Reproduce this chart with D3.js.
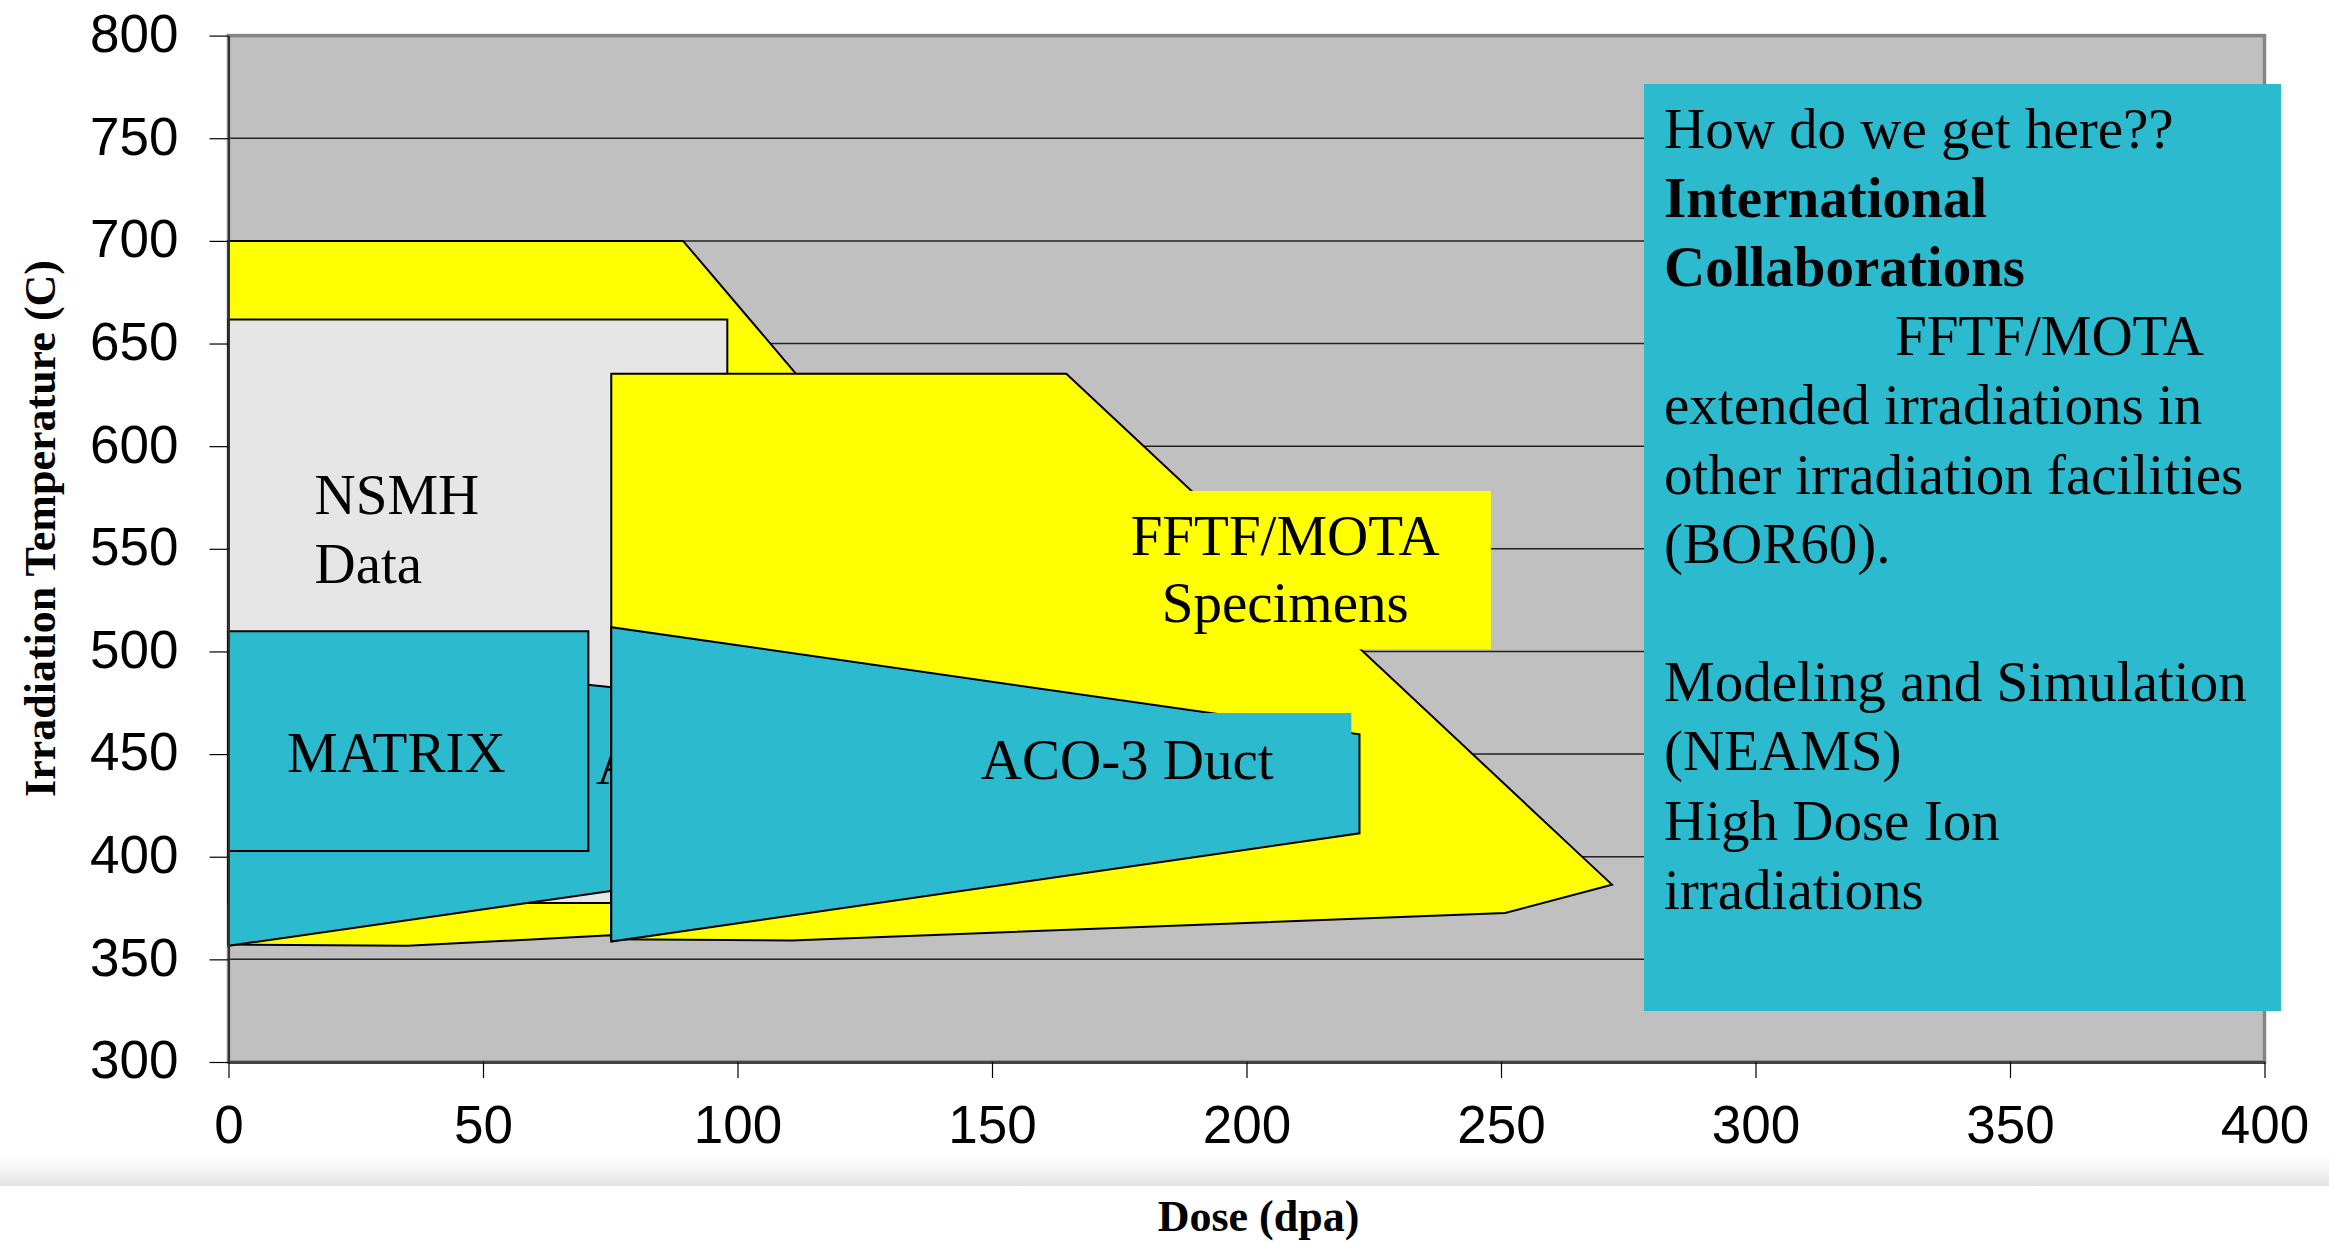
<!DOCTYPE html>
<html>
<head>
<meta charset="utf-8">
<script src="https://cdn.jsdelivr.net/npm/d3@7"></script>
<style>
  html, body { margin: 0; padding: 0; background: #ffffff; }
  svg { display: block; }
</style>
</head>
<body>
<script>
// ---- Axis ticks ----
const doseTicks = [0, 50, 100, 150, 200, 250, 300, 350, 400];
const tempTicks = [300, 350, 400, 450, 500, 550, 600, 650, 700, 750, 800];

// ---- Irradiation envelopes: [dose (dpa), temperature (C)] ----
const earlyFftfEnvelope = [[0, 700], [89.3, 700], [115, 625], [115, 361], [75, 361.7], [35.2, 356.6], [0, 357.2]];
const nsmhEnvelope      = [[0, 661.7], [98, 661.7], [98, 377.5], [0, 377.5]];
const acoBackEnvelope   = [[0, 356.6], [0, 501.8], [150, 463.4], [150, 410]];
const matrixEnvelope    = [[0, 509.8], [70.7, 509.8], [70.7, 402.8], [0, 402.8]];
const fftfMotaEnvelope  = [[75.2, 635.3], [164.6, 635.3], [271.8, 386.4], [250.8, 372.6], [110.6, 359.2], [75.2, 359.8]];
const acoDuctEnvelope   = [[75.2, 358.7], [75.2, 511.8], [222.2, 459.6], [222.2, 411.4]];

// ---- Label backgrounds: [dose0, dose1, temp0, temp1] ----
const fftfLabelBox = [167.1, 248.0, 501.0, 578.2];
const acoLabelBox  = [132.9, 220.6, 426.2, 470.0];

// ---- Label text and anchors: [dose, temp] ----
const nsmhLines   = ["NSMH", "Data"];
const nsmhAnchors = [[16.9, 567.0], [16.9, 533.4]];
const matrixText  = "MATRIX";
const matrixAnchor = [11.5, 441.1];
const acoBackText = "ACO-3";
const acoBackAnchor = [72.2, 435.5];
const fftfLines   = ["FFTF/MOTA", "Specimens"];
const fftfAnchors = [[207.6, 546.8], [207.6, 514.2]];
const acoDuctText = "ACO-3 Duct";
const acoDuctAnchor = [147.8, 438.1];

// ---- Side note text ----
const noteLines = [
  { text: "How do we get here??", bold: false, indent: 0 },
  { text: "International", bold: true, indent: 0 },
  { text: "Collaborations", bold: true, indent: 0 },
  { text: "FFTF/MOTA", bold: false, indent: 231 },
  { text: "extended irradiations in", bold: false, indent: 0 },
  { text: "other irradiation facilities", bold: false, indent: 0 },
  { text: "(BOR60).", bold: false, indent: 0 },
  { text: "", bold: false, indent: 0 },
  { text: "Modeling and Simulation", bold: false, indent: 0 },
  { text: "(NEAMS)", bold: false, indent: 0 },
  { text: "High Dose Ion", bold: false, indent: 0 },
  { text: "irradiations", bold: false, indent: 0 }
];

// ---- Layout ----
const W = 2329, H = 1243;
const plot = { left: 228.5, right: 2264.5, top: 35.6, bottom: 1062 };
const SERIF = "'Liberation Serif', 'Times New Roman', Times, serif";
const SANS = "'Liberation Sans', Arial, Helvetica, sans-serif";
const COLORS = {
  plotBg: "#c0c0c0",
  yellow: "#ffff00",
  lightGray: "#e6e6e6",
  cyan: "#2bbace"
};

const svg = d3.select("body").append("svg")
  .attr("width", W).attr("height", H)
  .attr("viewBox", `0 0 ${W} ${H}`);

const x = d3.scaleLinear().domain([0, 400]).range([plot.left, plot.right]);
const y = d3.scaleLinear().domain([300, 800]).range([plot.bottom, plot.top]);

// Shaded band between tick labels and the axis title
const defs = svg.append("defs");
const grad = defs.append("linearGradient").attr("id", "band")
  .attr("x1", 0).attr("y1", 0).attr("x2", 0).attr("y2", 1);
grad.append("stop").attr("offset", 0).attr("stop-color", "#ffffff");
grad.append("stop").attr("offset", 0.45).attr("stop-color", "#f7f7f7");
grad.append("stop").attr("offset", 0.7).attr("stop-color", "#eeeeee");
grad.append("stop").attr("offset", 1).attr("stop-color", "#e2e2e2");
svg.append("rect").attr("x", 0).attr("y", 1152).attr("width", W).attr("height", 34)
  .attr("fill", "url(#band)");

// Plot area
svg.append("rect")
  .attr("x", x(0)).attr("y", y(800))
  .attr("width", x(400) - x(0)).attr("height", y(300) - y(800))
  .attr("fill", COLORS.plotBg);

// Horizontal gridlines
svg.append("g").selectAll("line")
  .data(tempTicks.filter(t => t > 300 && t < 800))
  .join("line")
  .attr("x1", x(0)).attr("x2", x(400))
  .attr("y1", d => y(d)).attr("y2", d => y(d))
  .attr("stroke", "#222").attr("stroke-width", 1.5);

// Plot border
svg.append("rect")
  .attr("x", x(0)).attr("y", y(800))
  .attr("width", x(400) - x(0)).attr("height", y(300) - y(800))
  .attr("fill", "none").attr("stroke", "#858585").attr("stroke-width", 3.5);

const line = d3.line().x(d => x(d[0])).y(d => y(d[1]));
const drawShape = (pts, fill) => svg.append("path")
  .attr("d", line(pts) + "Z")
  .attr("fill", fill).attr("stroke", "#000").attr("stroke-width", 2)
  .attr("stroke-linejoin", "miter");
const drawBox = (b, fill) => svg.append("rect")
  .attr("x", x(b[0])).attr("y", y(b[3]))
  .attr("width", x(b[1]) - x(b[0])).attr("height", y(b[2]) - y(b[3]))
  .attr("fill", fill);
const drawText = (txt, pt, anchor) => svg.append("text")
  .attr("x", x(pt[0])).attr("y", y(pt[1]))
  .attr("text-anchor", anchor || "start")
  .attr("font-family", SERIF).attr("font-size", 57)
  .attr("fill", "#000").text(txt);

// Envelopes, back to front
drawShape(earlyFftfEnvelope, COLORS.yellow);
drawShape(nsmhEnvelope, COLORS.lightGray);
drawShape(acoBackEnvelope, COLORS.cyan);
drawText(acoBackText, acoBackAnchor);
drawShape(matrixEnvelope, COLORS.cyan);
drawText(matrixText, matrixAnchor);
nsmhLines.forEach((t, i) => drawText(t, nsmhAnchors[i]));

drawShape(fftfMotaEnvelope, COLORS.yellow);
drawBox(fftfLabelBox, COLORS.yellow);
fftfLines.forEach((t, i) => drawText(t, fftfAnchors[i], "middle"));

drawShape(acoDuctEnvelope, COLORS.cyan);
drawBox(acoLabelBox, COLORS.cyan);
drawText(acoDuctText, acoDuctAnchor);

// Axes
const yAxis = d3.axisLeft(y).tickValues(tempTicks).tickSize(19).tickPadding(31).tickSizeOuter(0);
const xAxis = d3.axisBottom(x).tickValues(doseTicks).tickSize(16).tickPadding(27).tickSizeOuter(0);

const gy = svg.append("g").attr("transform", `translate(${plot.left},0)`).call(yAxis);
const gx = svg.append("g").attr("transform", `translate(0,${plot.bottom})`).call(xAxis);

[gx, gy].forEach(g => {
  g.select(".domain").attr("stroke", "#333").attr("stroke-width", 2);
  g.selectAll(".tick line").attr("stroke", "#000").attr("stroke-width", 1.2);
  g.selectAll(".tick text")
    .attr("font-family", SANS).attr("font-size", 53).attr("fill", "#000");
});
gx.select(".domain").attr("stroke", "#444").attr("stroke-width", 3);
gy.selectAll(".tick text").attr("dy", "0.3em");

// Axis titles
svg.append("text")
  .attr("transform", `translate(55,528.5) rotate(-90)`)
  .attr("text-anchor", "middle")
  .attr("font-family", SERIF).attr("font-weight", "bold").attr("font-size", 44)
  .text("Irradiation Temperature (C)");

svg.append("text")
  .attr("x", 1258.5).attr("y", 1231)
  .attr("text-anchor", "middle")
  .attr("font-family", SERIF).attr("font-weight", "bold").attr("font-size", 44)
  .text("Dose (dpa)");

// Side note box
const note = { x: 1644, y: 84, w: 637, h: 927, pad: 20, firstBase: 147.5, lineH: 69.2 };
svg.append("rect")
  .attr("x", note.x).attr("y", note.y).attr("width", note.w).attr("height", note.h)
  .attr("fill", COLORS.cyan);
svg.append("g").selectAll("text")
  .data(noteLines)
  .join("text")
  .attr("x", d => note.x + note.pad + d.indent)
  .attr("y", (d, i) => note.firstBase + i * note.lineH)
  .attr("font-family", SERIF).attr("font-size", 57)
  .attr("font-weight", d => d.bold ? "bold" : "normal")
  .attr("fill", "#000")
  .text(d => d.text);
</script>
</body>
</html>
